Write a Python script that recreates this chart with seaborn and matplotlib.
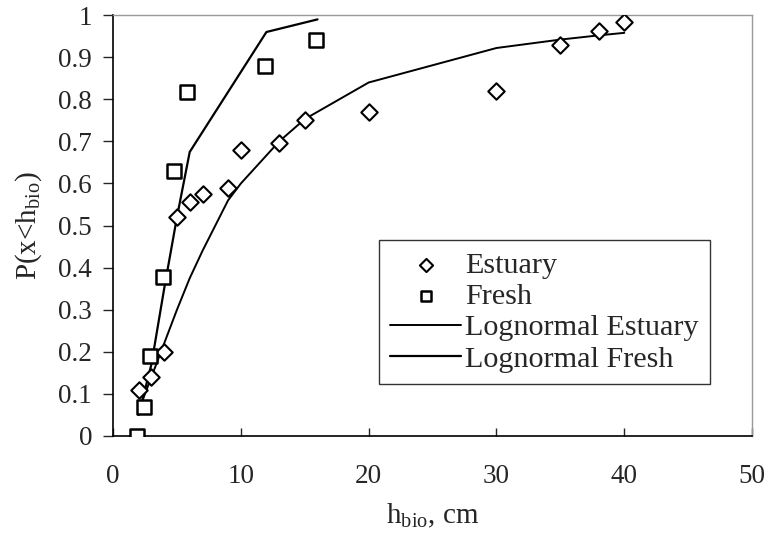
import matplotlib
matplotlib.use("Agg")
import matplotlib.pyplot as plt
import seaborn as sns
import pandas as pd

# Dados
estuario_x = [2, 3, 4, 5, 6, 7, 9, 10, 13, 15, 20, 30, 35, 38, 40]
estuario_y = [0.11, 0.14, 0.20, 0.52, 0.556, 0.575, 0.59, 0.68, 0.696, 0.75, 0.77, 0.82, 0.93, 0.962, 0.983]

doce_x = [1.9, 2.4, 2.9, 3.9, 4.8, 5.8, 11.9, 15.9]
doce_y = [0.0, 0.07, 0.19, 0.377, 0.63, 0.817, 0.88, 0.94]

lognormal_estuario_x = [2, 3, 4, 5, 6, 7, 9, 10, 13, 15, 20, 30, 35, 38, 40]
lognormal_estuario_y = [0.06, 0.14, 0.22, 0.30, 0.375, 0.44, 0.56, 0.60, 0.70, 0.753, 0.84, 0.922, 0.942, 0.952, 0.958]

lognormal_doce_x = [2, 3, 4, 5, 6, 12, 16]
lognormal_doce_y = [0.05, 0.17, 0.35, 0.52, 0.675, 0.96, 0.99]

rotulos_y = ["0", "0.1", "0.2", "0.3", "0.4", "0.5", "0.6", "0.7", "0.8", "0.9", "1"]

sns.set_style("white")
plt.rcParams["font.family"] = ["Liberation Serif", "DejaVu Serif"]
plt.rcParams["mathtext.fontset"] = "custom"
plt.rcParams["mathtext.rm"] = "Liberation Serif"
plt.rcParams["mathtext.it"] = "Liberation Serif"

fig = plt.figure(figsize=(7.69, 5.42), dpi=100)
ax = fig.add_axes([0.147, 0.1956, 0.831, 0.7764])

sns.scatterplot(x=estuario_x, y=estuario_y, marker="D", s=70, facecolor="white",
                edgecolor="black", linewidth=1.5, label="Estuary", ax=ax, zorder=3)
sns.scatterplot(x=doce_x, y=doce_y, marker="s", s=110, facecolor="white",
                edgecolor="black", linewidth=1.8, label="Fresh", ax=ax, zorder=3)
sns.lineplot(x=lognormal_estuario_x, y=lognormal_estuario_y, color="black", linewidth=1.4,
             sort=False, label="Lognormal Estuary", ax=ax, zorder=2)
sns.lineplot(x=lognormal_doce_x, y=lognormal_doce_y, color="black", linewidth=1.6,
             sort=False, label="Lognormal Fresh", ax=ax, zorder=2)

ax.set_xlim(0, 50)
ax.set_ylim(0, 1)
ax.set_xticks([0, 10, 20, 30, 40, 50])
ax.set_yticks([i / 10 for i in range(11)])
ax.set_yticklabels(rotulos_y)
ax.tick_params(axis="y", direction="out", length=7, width=1, labelsize=19.5, left=True, pad=8)
ax.tick_params(axis="x", direction="in", length=6, width=1, labelsize=19.5, bottom=True, pad=20)

for lado in ["left", "bottom"]:
    ax.spines[lado].set_color("black")
    ax.spines[lado].set_linewidth(1.2)
for lado in ["top", "right"]:
    ax.spines[lado].set_color("#999999")
    ax.spines[lado].set_linewidth(1.0)

ax.set_xlabel(r"h$_{\mathrm{bio}}$, cm", fontsize=21, labelpad=9)
ax.set_ylabel(r"P(x<h$_{\mathrm{bio}}$)", fontsize=21, labelpad=10)

leg = ax.legend(loc="upper left", bbox_to_anchor=(0.416, 0.4656), borderaxespad=0,
                fontsize=21.7, frameon=True, fancybox=False, edgecolor="black",
                handlelength=2.35, handletextpad=0.12, borderpad=0.38, labelspacing=0.14)
leg.get_frame().set_linewidth(1.0)
for h in leg.legend_handles[:2]:
    h.set_sizes([45])

fig.savefig("out.png", dpi=100)
